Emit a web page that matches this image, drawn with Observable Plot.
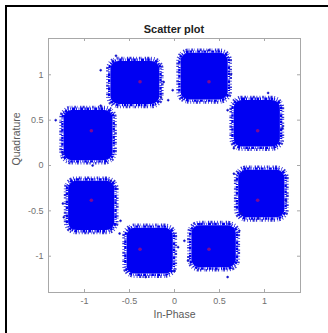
<!DOCTYPE html>
<html>
<head>
<meta charset="utf-8">
<script src="https://cdn.jsdelivr.net/npm/d3@7"></script>
<script src="https://cdn.jsdelivr.net/npm/@observablehq/plot@0.6"></script>
<style>
  html, body { margin: 0; padding: 0; background: #fff; }
  #fig { position: relative; width: 328px; height: 333px; overflow: hidden; font-family: "Liberation Sans", Arial, sans-serif; }
  #edge { position: absolute; z-index: 2; left: 5px; top: 5px; right: -4px; bottom: -4px; border-left: 2px solid #000; border-top: 2px solid #000; pointer-events: none; }
  #title { position: absolute; left: 0; top: 23px; width: 348px; text-align: center; font-size: 11px; font-weight: bold; color: #222; }
  #chart { position: absolute; left: 0; top: 34px; }
</style>
</head>
<body>
<div id="fig">
  <div id="edge"></div>
  <div id="title">Scatter plot</div>
  <div id="chart"></div>
</div>
<script>
// Ideal 8-PSK constellation points (red markers)
const symI = [0.924, 0.383, -0.383, -0.924, -0.924, -0.383, 0.383, 0.924];
const symQ = [0.383, 0.924, 0.924, 0.383, -0.383, -0.924, -0.924, -0.383];

// Extent of each received-symbol cloud (dense blue area)
const cloudI1 = [0.63, 0.04, -0.74, -1.26, -1.21, -0.56, 0.16, 0.68];
const cloudI2 = [1.21, 0.63, -0.13, -0.65, -0.63, 0.02, 0.72, 1.26];
const cloudQ1 = [0.17, 0.69, 0.64, 0.02, -0.75, -1.23, -1.16, -0.61];
const cloudQ2 = [0.75, 1.27, 1.18, 0.64, -0.14, -0.66, -0.63, -0.02];

// Scattered samples lying outside the dense clouds
const strayI = [-0.82, -0.12, -0.15, -0.65, -0.02, -0.07, 0.63, 0.38, 1.04, 0.59, 1.20, 0.66,
                -1.32, -0.82, -1.24, -0.91, -1.23, -1.24, -0.71, -0.60, 0.66, 0.74, 1.24, 0.93,
                -0.61, 0.04, 0.00, -0.32, 0.59, 0.11, 0.15, 0.72];
const strayQ = [1.05, 0.92, 0.75, 1.21, 0.83, 0.72, 1.01, 1.27, 0.80, 0.61, 0.41, 0.19,
                0.50, 0.66, 0.14, 0.00, -0.57, -0.42, -0.17, -0.61, -0.09, -0.53, -0.39, -0.58,
                -0.75, -0.90, -1.16, -1.23, -1.23, -0.83, -1.05, -0.72];

const xTicks = [-1, -0.5, 0, 0.5, 1];
const yTicks = [-1, -0.5, 0, 0.5, 1];
const xTickLabels = ["-1", "-0.5", "0", "0.5", "1"];
const yTickLabels = ["-1", "-0.5", "0", "0.5", "1"];

const symbols = symI.map((x, i) => ({x, y: symQ[i]}));
const clouds = cloudI1.map((x1, i) => ({x1, x2: cloudI2[i], y1: cloudQ1[i], y2: cloudQ2[i]}));
const stray = strayI.map((x, i) => ({x, y: strayQ[i]}));

const W = 328, H = 299, ml = 48, mr = 28, mt = 4, mb = 41;
const fw = W - ml - mr, fh = H - mt - mb, tk = 3;
const blue = "#0000f2";
const axisGray = "#a8a8a8";
const cloudBox = {x1: "x1", x2: "x2", y1: "y1", y2: "y2"};

const chart = Plot.plot({
  width: W, height: H,
  marginLeft: ml, marginRight: mr, marginTop: mt, marginBottom: mb,
  style: {fontFamily: "Liberation Sans, Arial, sans-serif", fontSize: "9px", background: "transparent", overflow: "visible"},
  x: {domain: [-1.4, 1.4]},
  y: {domain: [-1.4, 1.4]},
  marks: [
    // ragged outer edge of each cloud
    Plot.rect(clouds, {...cloudBox, fill: "none", stroke: "#1c1cd0", strokeWidth: 2.6, rx: 11,
      strokeDasharray: "0.8,1.9,1.6,1.0,0.6,2.6,1.3,1.2,2.1,1.6,0.9,2.2", strokeOpacity: 0.9}),
    Plot.rect(clouds, {...cloudBox, inset: 1.8, fill: "none", stroke: blue, strokeWidth: 2.4, rx: 10,
      strokeDasharray: "2.6,0.8,1.1,1.7,0.7,0.9,3.0,1.2,1.4,0.6"}),
    // dense core
    Plot.rect(clouds, {...cloudBox, inset: 3, fill: blue, rx: 8}),
    Plot.dot(stray, {x: "x", y: "y", r: 1, fill: blue, stroke: "#2020a0", strokeWidth: 0.5}),
    Plot.dot(symbols, {x: "x", y: "y", r: 1.8, fill: "#ff1030", fillOpacity: 0.5}),
    Plot.frame({stroke: axisGray}),
    // inward ticks on all four sides
    Plot.tickX(xTicks, {x: d => d, insetTop: fh - tk, stroke: axisGray}),
    Plot.tickX(xTicks, {x: d => d, insetBottom: fh - tk, stroke: axisGray}),
    Plot.tickY(yTicks, {y: d => d, insetRight: fw - tk, stroke: axisGray}),
    Plot.tickY(yTicks, {y: d => d, insetLeft: fw - tk, stroke: axisGray}),
    Plot.axisX(xTicks, {tickSize: 0, tickPadding: 5, tickFormat: (d, i) => xTickLabels[i], label: null, fill: "#707070"}),
    Plot.axisY(yTicks, {tickSize: 0, tickPadding: 5, tickFormat: (d, i) => yTickLabels[i], label: null, fill: "#707070"}),
    Plot.text(["In-Phase"], {text: d => d, frameAnchor: "bottom", dy: 25, fontSize: 10.5, fill: "#5a5a5a"}),
    Plot.text(["Quadrature"], {text: d => d, frameAnchor: "left", dx: -32, rotate: -90, fontSize: 10.5, fill: "#5a5a5a"})
  ]
});
document.getElementById("chart").appendChild(chart);
</script>
</body>
</html>
